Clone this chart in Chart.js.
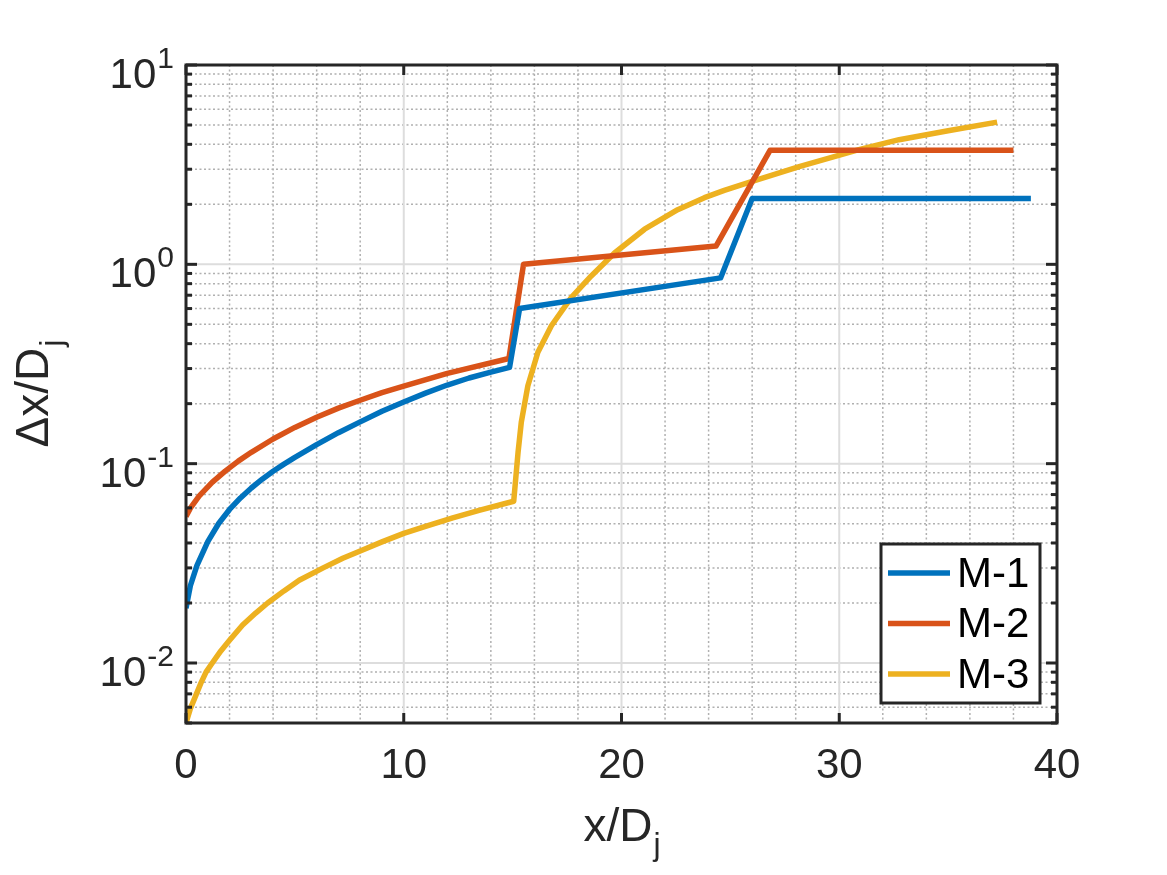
<!DOCTYPE html>
<html>
<head>
<meta charset="utf-8">
<script src="https://cdn.jsdelivr.net/npm/chart.js@4.4.0/dist/chart.umd.min.js"></script>
<style>
  html, body { margin: 0; padding: 0; background: #fff; }
  #wrap { width: 1167px; height: 875px; position: relative; }
</style>
</head>
<body>
<div id="wrap"><canvas id="chart"></canvas></div>
<script>
// values: x/Dj positions and Δx/Dj
const m1X = [0, 0.2, 0.5, 1.0, 1.5, 2.0, 2.5, 3.0, 3.5, 4.0, 4.5, 5.0, 6.0, 7.0, 8.0, 9.0, 10.0, 11.0, 12.0, 13.0, 14.0, 14.86, 15.32, 24.55, 26.0, 38.8];
const m1Y = [0.0188, 0.0244, 0.0308, 0.0406, 0.0501, 0.0589, 0.0673, 0.0755, 0.0836, 0.0916, 0.0995, 0.1076, 0.1245, 0.143, 0.162, 0.183, 0.204, 0.226, 0.248, 0.269, 0.288, 0.304, 0.60, 0.855, 2.14, 2.14];

const m2X = [0, 0.2, 0.6, 1.2, 1.8, 2.4, 3.0, 4.0, 5.0, 6.0, 7.0, 8.0, 9.0, 10.0, 12.0, 14.83, 15.5, 24.34, 26.82, 38.0];
const m2Y = [0.0543, 0.0598, 0.0687, 0.0805, 0.0918, 0.103, 0.114, 0.133, 0.152, 0.171, 0.190, 0.208, 0.227, 0.245, 0.284, 0.337, 1.0, 1.235, 3.73, 3.73];

const m3X = [0, 0.2, 0.48, 0.7, 0.92, 1.15, 1.6, 2.0, 2.6, 3.2, 3.75, 4.5, 5.2, 6.3, 7.2, 8.0, 9.0, 10.0, 11.0, 12.25, 13.5, 15.05, 15.25, 15.4, 15.7, 16.16, 16.78, 17.69, 18.61, 19.68, 21.06, 22.58, 23.81, 24.72, 26.0, 28.2, 30.9, 32.75, 35.0, 37.25];
const m3Y = [0.005, 0.0059, 0.007, 0.008, 0.009, 0.0098, 0.0115, 0.013, 0.0155, 0.0178, 0.020, 0.023, 0.026, 0.030, 0.0335, 0.0365, 0.0405, 0.0447, 0.0485, 0.0535, 0.0585, 0.0648, 0.114, 0.162, 0.246, 0.362, 0.492, 0.681, 0.874, 1.14, 1.50, 1.88, 2.16, 2.35, 2.61, 3.10, 3.76, 4.22, 4.68, 5.17];

const xTicks = [0, 10, 20, 30, 40];
const yTicks = [0.01, 0.1, 1, 10];

const FONT = "'Liberation Sans', Arial, Helvetica, sans-serif";
const INK = '#262626';

function pts(xs, ys) {
  return xs.map((x, i) => ({ x: x, y: ys[i] }));
}

// MATLAB-like axes: grid, inward ticks, box, 10^n labels, titles, legend
const matlabAxes = {
  id: 'matlabAxes',
  beforeDatasetsDraw(chart) {
    const { ctx, chartArea: a, scales: { x, y } } = chart;
    const vline = v => { const p = x.getPixelForValue(v); ctx.beginPath(); ctx.moveTo(p, a.top); ctx.lineTo(p, a.bottom); ctx.stroke(); };
    const hline = v => { const p = y.getPixelForValue(v); ctx.beginPath(); ctx.moveTo(a.left, p); ctx.lineTo(a.right, p); ctx.stroke(); };
    ctx.save();
    // minor grid (dotted)
    ctx.lineWidth = 1.5;
    ctx.strokeStyle = '#b0b0b0';
    ctx.setLineDash([2, 2.5]);
    for (let v = 2; v < x.max; v += 2) if (v % 10 !== 0) vline(v);
    for (let d = -3; d <= 1; d++) {
      for (let k = 2; k <= 9; k++) {
        const v = k * Math.pow(10, d);
        if (v > y.min && v < y.max) hline(v);
      }
    }
    // major grid (solid)
    ctx.setLineDash([]);
    ctx.lineWidth = 2;
    ctx.strokeStyle = '#dddddd';
    xTicks.forEach(v => { if (v > x.min && v < x.max) vline(v); });
    yTicks.forEach(v => { if (v > y.min && v < y.max) hline(v); });
    ctx.restore();
  },
  afterDatasetsDraw(chart) {
    const { ctx, chartArea: a, scales: { x, y } } = chart;
    ctx.save();
    ctx.strokeStyle = INK;
    ctx.fillStyle = INK;
    ctx.lineWidth = 3;
    // inward ticks
    const seg = (x1, y1, x2, y2) => { ctx.beginPath(); ctx.moveTo(x1, y1); ctx.lineTo(x2, y2); ctx.stroke(); };
    xTicks.forEach(v => {
      const p = x.getPixelForValue(v);
      seg(p, a.bottom, p, a.bottom - 10);
      seg(p, a.top, p, a.top + 10);
    });
    for (let d = -3; d <= 1; d++) {
      for (let k = 1; k <= 9; k++) {
        const v = k * Math.pow(10, d);
        if (v < y.min || v > y.max) continue;
        const p = y.getPixelForValue(v);
        const len = k === 1 ? 11 : 6;
        seg(a.left, p, a.left + len, p);
        seg(a.right, p, a.right - len, p);
      }
    }
    // box
    ctx.strokeRect(a.left, a.top, a.right - a.left, a.bottom - a.top);

    // y tick labels 10^n
    ctx.textBaseline = 'alphabetic';
    ctx.textAlign = 'right';
    yTicks.forEach(v => {
      const p = y.getPixelForValue(v);
      const sup = String(Math.round(Math.log10(v)));
      ctx.font = '30px ' + FONT;
      const sw = ctx.measureText(sup).width;
      ctx.fillText(sup, a.left - 12, p + 3);
      ctx.font = '42px ' + FONT;
      ctx.fillText('10', a.left - 13 - sw, p + 23);
    });

    // axis titles with subscript j
    const title = (cx, base) => {
      ctx.font = '46px ' + FONT;
      const w1 = ctx.measureText(base).width;
      ctx.font = '32px ' + FONT;
      const w2 = ctx.measureText('j').width;
      const x0 = cx - (w1 + w2) / 2;
      ctx.textAlign = 'left';
      ctx.font = '46px ' + FONT;
      ctx.fillText(base, x0, 0);
      ctx.font = '32px ' + FONT;
      ctx.fillText('j', x0 + w1 + 1, 14);
    };
    ctx.save();
    ctx.translate(0, 841);
    title((a.left + a.right) / 2, 'x/D');
    ctx.restore();
    ctx.save();
    ctx.translate(48, (a.top + a.bottom) / 2);
    ctx.rotate(-Math.PI / 2);
    title(0, '\u0394x/D');
    ctx.restore();

    // legend box inside the axes
    const bw = 159, bh = 159;
    const bx = a.right - 17 - bw, by = a.bottom - 20 - bh;
    ctx.fillStyle = '#ffffff';
    ctx.fillRect(bx, by, bw, bh);
    ctx.lineWidth = 3;
    ctx.strokeStyle = INK;
    ctx.strokeRect(bx, by, bw, bh);
    ctx.font = '42px ' + FONT;
    ctx.textAlign = 'left';
    ctx.textBaseline = 'middle';
    chart.data.datasets.forEach((ds, i) => {
      const cy = by + 29 + i * 50.5;
      ctx.strokeStyle = ds.borderColor;
      ctx.lineWidth = 5.5;
      seg(bx + 7, cy, bx + 69, cy);
      ctx.fillStyle = '#000000';
      ctx.fillText(ds.label, bx + 76, cy + 2);
    });
    ctx.restore();
  }
};

const chart = new Chart(document.getElementById('chart'), {
  type: 'line',
  data: {
    datasets: [
      { label: 'M-1', data: pts(m1X, m1Y), borderColor: '#0072BD' },
      { label: 'M-2', data: pts(m2X, m2Y), borderColor: '#D95319' },
      { label: 'M-3', data: pts(m3X, m3Y), borderColor: '#EDB120' }
    ]
  },
  options: {
    responsive: true,
    maintainAspectRatio: false,
    animation: false,
    layout: { padding: { top: 65, right: 110, left: 0, bottom: 0 } },
    elements: {
      point: { radius: 0 },
      line: { borderWidth: 5.5, tension: 0, borderJoinStyle: 'round' }
    },
    plugins: {
      legend: { display: false },
      tooltip: { enabled: false }
    },
    scales: {
      x: {
        type: 'linear',
        min: 0,
        max: 40,
        grid: { display: false },
        border: { display: false },
        afterBuildTicks: s => { s.ticks = xTicks.map(v => ({ value: v })); },
        ticks: { color: INK, font: { family: FONT, size: 42 }, padding: 10, maxRotation: 0, autoSkip: false },
        afterFit: s => { s.height = 152; }
      },
      y: {
        type: 'logarithmic',
        min: 0.005,
        max: 10,
        grid: { display: false },
        border: { display: false },
        ticks: { display: false },
        afterFit: s => { s.width = 186; }
      }
    }
  },
  plugins: [matlabAxes]
});
</script>
</body>
</html>
